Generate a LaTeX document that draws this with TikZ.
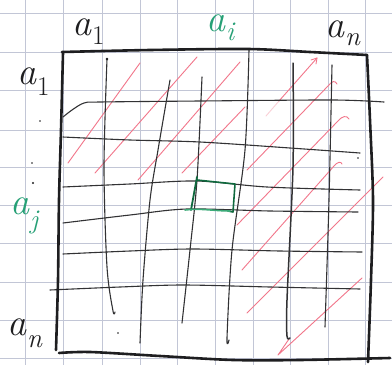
\documentclass[tikz,border=0pt]{standalone}
\usepackage{fontspec}
\usetikzlibrary{arrows.meta}
\definecolor{gridc}{RGB}{194,198,214}
\definecolor{ink}{RGB}{50,50,52}
\definecolor{darkink}{RGB}{30,30,32}
\definecolor{pen}{RGB}{242,118,138}
\definecolor{tealg}{RGB}{38,160,118}
\definecolor{boxg}{RGB}{15,105,62}
\definecolor{boxlight}{RGB}{60,170,120}
\newcommand\mylab[3]{\itshape #1\kern1pt\raisebox{-#3pt}{\fontsize{27}{27}\selectfont #2}}
\begin{document}
\begin{tikzpicture}[x=1pt,y=-1pt, line cap=round, line join=round,
  gridline/.style={draw=gridc, line width=0.9pt},
  border/.style={draw=darkink, line width=2.6pt},
  pencil/.style={draw=ink, line width=1.1pt},
  redline/.style={draw=pen, line width=0.9pt},
  lab/.style={font=\fontsize{38}{38}\selectfont, inner sep=0pt, anchor=base west, text=darkink},
  glab/.style={lab, text=tealg},
  speck/.style={fill=darkink}
]
\useasboundingbox (0,0) rectangle (392,365);
\fill[white] (0,0) rectangle (392,365);
% graph paper
\foreach \gx in {25,63,102,140,177,215,253,290,328,365} \draw[gridline] (\gx,0) -- (\gx,365);
\foreach \gy in {13,52,90,130,167,205,243,282,320,358} \draw[gridline] (0,\gy) -- (392,\gy);

% red hatching
\draw[redline] (68,163) -- (140,63);
\draw[redline] (95,173) -- (197,57);
\draw[redline] (138,180) -- (240,62);
\draw[redline] (182,173) -- (245,107);
\draw[redline, draw opacity=0.35] (266,116) -- (279,101);
\draw[redline] (279,101) -- (317,58);
\draw[redline] (311,60) -- (317,58) -- (316,64);
\draw[redline] (247,170) -- (328,86) .. controls (332,81) and (335,80) .. (337,84);
\draw[redline] (237,225) -- (338,121) .. controls (342,116) and (347,115) .. (349,119);
\draw[redline] (242,270) -- (334,166) .. controls (337,162) and (341,161) .. (342,164);
\draw[redline] (247,313) -- (383,177);
\draw[redline] (362,278) -- (278,355) -- (289,339);

% pencil columns
\draw[pencil] plot[smooth] coordinates {(107,59) (104,167) (107,267) (113,311) (115,312)};
\draw[pencil] plot[smooth] coordinates {(170,80) (158,150) (150,200) (143,280) (140,343)};
\draw[pencil] plot[smooth] coordinates {(202,77) (197,180) (190,250) (182,323)};
\draw[pencil] plot[smooth] coordinates {(249,50) (245,150) (232,250) (227,338) (229,340)};
\draw[pencil, line width=1.5pt] plot[smooth] coordinates {(293,63) (293,167) (287,300) (287,336) (290,338)};
\draw[pencil] plot[smooth] coordinates {(332,65) (329,200) (325,327)};
\fill[darkink] (107,59) circle (1.3pt);

% pencil rows
\draw[pencil] plot[smooth] coordinates {(63,117) (72,110) (84,103) (100,102) (200,101) (333,100) (384,102)};
\draw[pencil] plot[smooth] coordinates {(63,137) (130,140) (200,142) (290,148) (360,153)};
\draw[pencil] plot[smooth] coordinates {(63,187) (130,184) (197,181) (267,187) (360,190)};
\draw[pencil] plot[smooth] coordinates {(63,223) (130,215) (187,209) (270,211) (358,212)};
\draw[pencil] plot[smooth] coordinates {(63,254) (130,251) (193,249) (280,251) (362,252)};
\draw[pencil] plot[smooth] coordinates {(50,290) (120,287) (183,285) (270,287) (360,289)};

% frame
\draw[border] plot[smooth] coordinates {(62,52) (150,50) (248,49) (310,52) (367,55)};
\draw[border] plot[smooth] coordinates {(63,53) (61,130) (59,200) (58,280) (56,350)};
\draw[border] plot[smooth] coordinates {(59,353) (90,352) (160,356) (233,360) (300,360) (390,358)};
\draw[border] plot[smooth] coordinates {(367,55) (370,120) (373,200) (371,280) (368,362)};

% green cell
\draw[draw=boxg, line width=1.8pt] (197,177) -- (191,210);
\draw[draw=boxg, line width=1.6pt] (197,180) -- (235,184) -- (233,212) -- (228,211);
\draw[draw=boxlight, line width=1.6pt] (185,210) .. controls (200,208) and (215,211) .. (230,211);

% specks
\fill[darkink] (40,121) circle (0.9pt);
\fill[darkink] (32,163) circle (0.8pt);
\fill[darkink] (33,183) circle (1.1pt);
\fill[darkink] (118,333) circle (0.8pt);
\fill[darkink] (358,158) circle (0.9pt);

% labels
\node[lab]  (ta1) at (72,35)  {\mylab{a}{\upshape 1}{9}};
\node[glab] (tai) at (206,31) {\mylab{a}{i}{9}};
\node[lab]  (tan) at (325,37) {\mylab{a}{n}{8}};
\node[lab]  (la1) at (17,84)  {\mylab{a}{\upshape 1}{11}};
\node[glab] (laj) at (10,214) {\mylab{a}{j}{14}};
\node[lab]  (lan) at (7,335)  {\mylab{a}{n}{12}};
\end{tikzpicture}
\end{document}
